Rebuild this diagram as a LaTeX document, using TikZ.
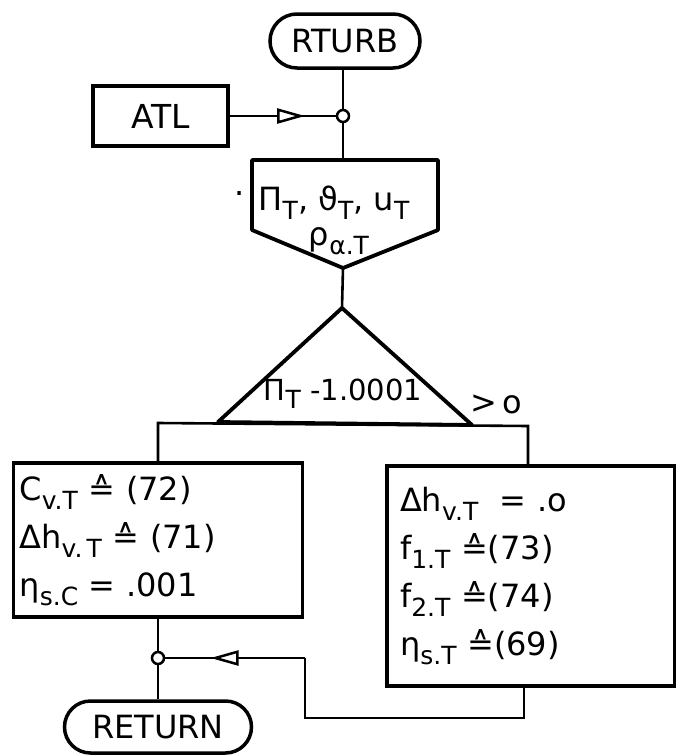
\documentclass[tikz,border=0pt]{standalone}
\usepackage{fontspec}
\setmainfont{DejaVu Sans}
\usetikzlibrary{arrows.meta,decorations.markings,shapes.misc}
\newcommand{\subx}[1]{\raisebox{-0.28em}{\fontsize{25}{25}\selectfont #1}}
\begin{document}
\begin{tikzpicture}[x=1pt,y=-1pt,
  box/.style={draw, line width=3.8pt},
  term/.style={draw, line width=3.5pt, rounded rectangle, minimum height=54pt, inner sep=0pt, font=\fontsize{32}{38}\selectfont},
  conn/.style={line width=2.6pt},
  junction/.style={circle, draw, line width=2.5pt, fill=white, minimum size=12pt, inner sep=0pt},
  midtri/.style={postaction={decorate}, decoration={markings, mark=at position #1 with {\arrow{Triangle[fill=white,length=28pt,width=15pt,line width=2.5pt]}}}},
  lbl/.style={font=\fontsize{32}{38}\selectfont, inner sep=0pt},
  boxtext/.style={box, align=left, font=\fontsize{32}{48}\selectfont}
]
\useasboundingbox (0,0) rectangle (676,755);

% terminals
\node[term, minimum width=150pt] (rturb) at (345,41) {RTURB};
\node[term, minimum width=187pt, minimum height=52pt] (ret) at (158,727) {RETURN};

% ATL box
\node[box, minimum width=135pt, minimum height=60pt, font=\fontsize{33}{38}\selectfont] (atl) at (160.5,116) {ATL};

% junctions
\node[junction] (j1) at (343,116) {};
\node[junction] (j2) at (158,658) {};

% pentagon (output)
\coordinate (ptop) at (343,160);
\coordinate (pbot) at (343,268);
\draw[box, line join=round] (252,160) -- (438,160) -- (438,230) -- (pbot) -- (252,230) -- cycle;
\node[lbl] (pt1) at (334,203) {Π\subx{T}, ϑ\subx{T}, u\subx{T}};
\node[lbl] (pt2) at (339,241) {ρ\subx{α.T}};
\node[lbl] (dot) at (240,194) {.};

% decision triangle
\coordinate (dtop) at (342,308);
\draw[box, line join=round] (dtop) -- (472,425) -- (218,422) -- cycle;
\node[lbl, font=\fontsize{29}{34}\selectfont] (dt) at (343,394) {Π\subx{T} -1.0001};
\node[lbl, font=\fontsize{32}{36}\selectfont] (gt) at (496,404) {>\,o};
\coordinate (dL) at (158,423);
\coordinate (dR) at (528,426);

% process boxes
\node[boxtext, minimum width=289pt, minimum height=154pt, text width=277pt, inner sep=6pt] (lbox) at (158,540)
  {C\subx{v.T} ≙ (72)\\Δh\subx{v.\,T} ≙ (71)\\η\subx{s.C} = .001};
\node[boxtext, minimum width=288pt, minimum height=220pt, text width=262pt, inner sep=13pt] (rbox) at (531,576)
  {Δh\subx{v.T} \ = .o\\f\subx{1.T} ≙(73)\\f\subx{2.T} ≙(74)\\η\subx{s.T} ≙(69)};

% connectors
\draw[conn] (rturb.south -| j1) -- (j1);
\draw[conn, midtri=0.71] (atl) -- (j1);
\draw[conn] (j1) -- (ptop);
\draw[conn] (pbot) -- (dtop);
\draw[conn] (lbox.north) -- (dL) -- (dR) -- (rbox.north -| dR);
\draw[conn] (lbox.south) -- (j2);
\draw[conn] (j2) -- (ret);
\coordinate (r1) at (524,718);
\coordinate (r2) at (305,718);
\coordinate (r3) at (305,658);
\draw[conn] (rbox.south -| r1) -- (r1) -- (r2) -- (r3);
\draw[conn, midtri=0.676] (r3) -- (j2);
\end{tikzpicture}
\end{document}
